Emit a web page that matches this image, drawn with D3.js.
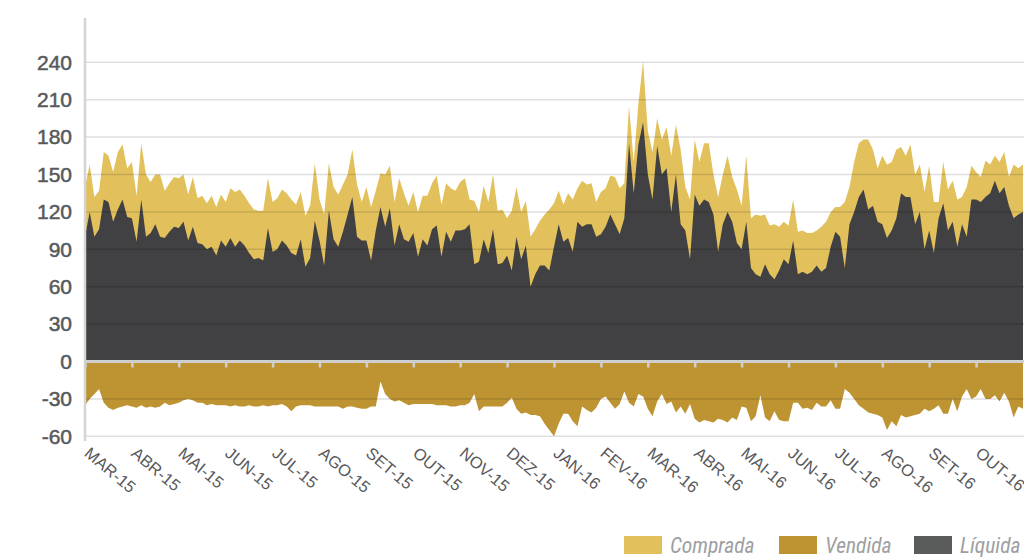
<!DOCTYPE html>
<html><head><meta charset="utf-8">
<script src="https://cdn.jsdelivr.net/npm/d3@7"></script>
<style>
html,body{margin:0;padding:0;background:#fff;}
svg{display:block;}
</style></head>
<body>
<svg id="chart" width="1024" height="557"></svg>
<script>
const months = ["MAR-15","ABR-15","MAI-15","JUN-15","JUL-15","AGO-15","SET-15","OUT-15","NOV-15","DEZ-15",
  "JAN-16","FEV-16","MAR-16","ABR-16","MAI-16","JUN-16","JUL-16","AGO-16","SET-16","OUT-16"];
const yTicks = [-60,-30,0,30,60,90,120,150,180,210,240];
const seriesNames = ["Comprada","Vendida","Líquida"];

const comprada = [
140,158,132,137,168,165,152,168,174,155,
160,133,175,150,144,150,150,137,143,148,
147,150,134,148,131,133,127,133,124,134,
128,139,136,138,133,127,122,121,121,147,
128,131,138,135,130,126,136,117,125,159,
130,118,159,140,134,142,150,170,142,128,
140,124,137,151,150,157,128,147,135,125,
136,120,133,133,143,149,126,143,139,137,
144,147,130,129,120,141,128,150,121,122,
115,121,140,120,129,100,106,113,118,122,
127,137,126,135,130,139,145,142,143,128,
136,139,149,148,139,143,205,160,207,241,
185,168,195,178,188,165,190,170,140,130,
178,160,175,175,150,132,150,165,148,138,
125,165,115,118,117,118,109,110,108,112,
109,130,104,105,103,103,105,108,112,120,
124,124,128,140,160,175,178,178,170,155,
165,158,160,170,172,165,174,150,158,136,
157,128,128,160,138,145,130,132,140,157,
152,148,161,158,165,160,168,148,158,155,158];

const liquida = [
100,120,100,106,130,128,112,122,130,116,
115,96,130,100,103,110,100,99,104,108,
107,112,97,108,95,94,90,92,85,97,
92,99,92,97,93,87,82,83,81,107,
88,90,97,93,87,85,98,76,83,113,
97,77,121,98,92,104,118,132,100,97,
97,81,105,124,108,123,93,110,98,96,
103,84,98,93,106,109,84,104,96,105,
105,106,110,78,80,98,87,106,78,79,
85,73,100,82,93,60,70,77,77,73,
92,110,96,99,88,112,108,110,110,100,
102,108,118,110,102,115,175,135,174,192,
150,130,173,150,155,120,150,110,105,82,
134,125,130,128,118,88,110,120,112,95,
90,112,75,70,68,78,70,66,73,82,
78,97,70,72,70,72,77,72,75,92,
104,100,75,110,120,132,138,122,125,112,
110,99,105,115,135,132,132,110,120,90,
105,87,115,127,105,112,92,110,100,130,
130,128,132,135,145,135,140,125,115,118,120];

const vendida = [
-35,-30,-26,-22,-33,-37,-39,-37,-36,-35,
-36,-37,-35,-37,-36,-37,-36,-33,-35,-34,
-33,-31,-30,-31,-33,-33,-35,-34,-35,-35,
-35,-36,-35,-36,-36,-35,-36,-36,-35,-36,
-35,-35,-34,-36,-40,-36,-35,-35,-35,-36,
-36,-36,-36,-36,-36,-38,-36,-36,-37,-38,
-38,-36,-36,-16,-26,-30,-32,-31,-33,-35,
-34,-34,-34,-34,-34,-35,-35,-35,-36,-36,
-35,-35,-33,-26,-40,-36,-36,-36,-36,-36,
-33,-29,-38,-42,-41,-43,-43,-44,-50,-55,
-60,-50,-42,-42,-48,-52,-36,-39,-41,-37,
-30,-28,-33,-38,-34,-24,-33,-36,-26,-28,
-38,-44,-32,-26,-34,-32,-41,-36,-42,-34,
-46,-49,-47,-48,-49,-46,-47,-49,-45,-47,
-36,-37,-48,-44,-27,-45,-48,-40,-47,-48,
-48,-33,-33,-38,-37,-39,-33,-36,-36,-31,
-38,-38,-22,-25,-30,-35,-38,-41,-42,-43,
-45,-55,-48,-52,-43,-45,-44,-43,-42,-38,
-40,-38,-35,-42,-42,-30,-40,-28,-22,-30,
-28,-22,-30,-30,-27,-32,-25,-32,-45,-36,-38];

const colors = {Comprada:"#E2C15D", Vendida:"#BE9433", "Líquida":"#414042"};
const legendColors = {Comprada:"#E2C15D", Vendida:"#BE9433", "Líquida":"#5A5B5B"};
const sans = "'Liberation Sans',Arial,Helvetica,sans-serif";
const narrow = "'Liberation Sans Narrow','Arial Narrow','Roboto Condensed',sans-serif";

const svg = d3.select("#chart");
const left = 85, right = 1023;
const perMonth = 10;
const x = d3.scaleLinear().domain([0, months.length]).range([left, right]);
const y = d3.scaleLinear().domain([-60, 240]).range([436.3, 62.3]);
const xi = i => x(i / perMonth);

function area(vals){
  return d3.area().x((d,i)=>xi(i)).y0(y(0)).y1(d=>y(d)).curve(d3.curveLinear)(vals);
}

svg.append("path").attr("d", area(comprada)).attr("fill", colors.Comprada);
svg.append("path").attr("d", area(liquida)).attr("fill", colors["Líquida"]);
svg.append("path").attr("d", area(vendida)).attr("fill", colors.Vendida);

// gridlines (drawn over the areas, subtle)
svg.append("g").selectAll("line").data(yTicks.filter(t=>t!==0)).join("line")
  .attr("x1", left).attr("x2", 1024)
  .attr("y1", d=>y(d)).attr("y2", d=>y(d))
  .attr("stroke", "rgba(0,0,0,0.13)").attr("stroke-width", 1.5);

// y axis line
svg.append("line").attr("x1", left).attr("x2", left).attr("y1", 18).attr("y2", 441)
  .attr("stroke", "#d4d4d4").attr("stroke-width", 2.5);

// y tick labels
const yAxis = d3.axisLeft(y).tickValues(yTicks).tickSize(0).tickPadding(13).tickFormat(d=>String(d));
const ga = svg.append("g").attr("transform", `translate(${left},0)`).call(yAxis);
ga.select(".domain").remove();
ga.selectAll("text").attr("font-family", sans)
  .attr("font-size", 21).attr("fill", "#58595b")
  .attr("stroke", "#58595b").attr("stroke-width", 0.5);

// zero line with month ticks
const xa = d3.axisBottom(x).tickValues(d3.range(months.length)).tickSize(6).tickFormat(i=>months[i]);
const gx = svg.append("g").attr("transform", `translate(0,${y(0)})`).call(xa);
gx.select(".domain").remove();
gx.selectAll(".tick line").attr("stroke", "#cfcfcf").attr("stroke-width", 2.5);
gx.selectAll(".tick text").remove();
svg.append("line").attr("x1", left).attr("x2", 1024).attr("y1", y(0)).attr("y2", y(0))
  .attr("stroke", "#cfcfcf").attr("stroke-width", 3);

// x labels rotated
svg.append("g").selectAll("text").data(months).join("text")
  .attr("transform", (d,i)=>`translate(${x(i)+6},${446}) rotate(40)`)
  .attr("dy", "0.72em")
  .attr("font-family", sans)
  .attr("font-size", 16.5).attr("fill", "#58595b")
  .text(d=>d);

// legend
const legendX = [624, 779, 914];
const lg = svg.append("g");
seriesNames.forEach((n,i)=>{
  lg.append("rect").attr("x", legendX[i]).attr("y", 536).attr("width", 38).attr("height", 18)
    .attr("fill", legendColors[n]);
  lg.append("text").attr("x", legendX[i]+46).attr("y", 553)
    .attr("font-family", narrow)
    .attr("font-size", 21.5).attr("font-style", "italic").attr("fill", "#9d9fa2").text(n);
});
</script>
</body></html>
